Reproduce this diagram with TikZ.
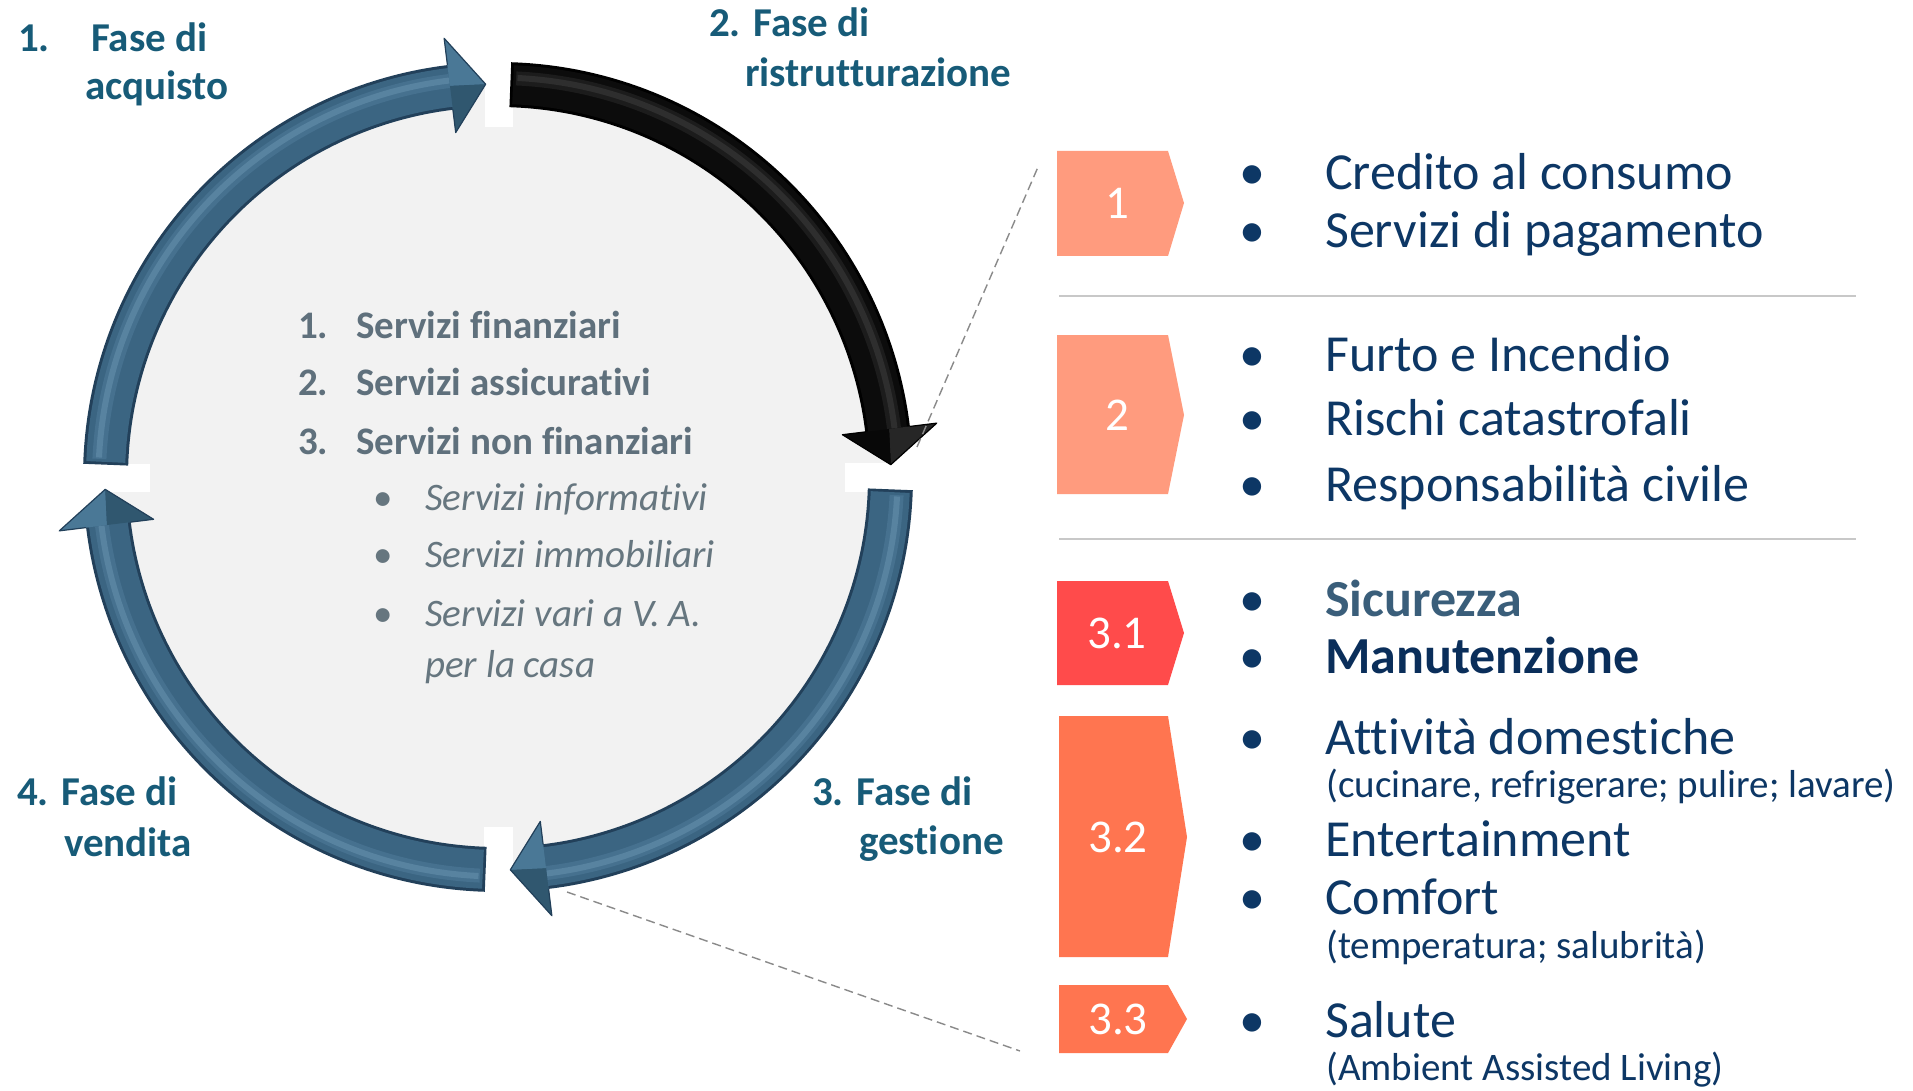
\documentclass[tikz,border=0pt]{standalone}
\usepackage{fontspec}
\setmainfont{Carlito}[Ligatures=NoCommon]
\usetikzlibrary{calc}
\definecolor{phaseblue}{HTML}{175B78}
\definecolor{listgray}{HTML}{5F707C}
\definecolor{ilistgray}{HTML}{66767F}
\definecolor{navy}{HTML}{0D3765}
\definecolor{sicur}{HTML}{3A5E7A}
\definecolor{manut}{HTML}{0A2E5A}
\definecolor{salmon}{HTML}{FF9B7E}
\definecolor{boxred}{HTML}{FF4B4B}
\definecolor{boxorange}{HTML}{FF7550}
\definecolor{sepgray}{HTML}{C8C8C8}
\definecolor{innergray}{HTML}{F2F2F2}
\definecolor{dashgray}{HTML}{8A8A8A}
\definecolor{ringbase}{HTML}{3B6582}
\definecolor{ringdark}{HTML}{22405A}
\definecolor{ringmid}{HTML}{46718F}
\definecolor{ringlight}{HTML}{5883A0}
\definecolor{ringfacetL}{HTML}{4A7896}
\definecolor{ringfacetD}{HTML}{30576F}
\definecolor{blkbase}{HTML}{0C0C0C}
\definecolor{blkdark}{HTML}{000000}
\definecolor{blkmid}{HTML}{1C1C1C}
\definecolor{blklight}{HTML}{2E2E2E}
\definecolor{blkfacetL}{HTML}{262626}
\definecolor{blkfacetD}{HTML}{080808}
% #1 base angle, #2 dark, #3 base, #4 mid, #5 light, #6 outer facet, #7 inner facet
\newcommand{\RingArrow}[7]{%
 \pgfmathsetmacro{\RAs}{#1+1.8}%
 \pgfmathsetmacro{\RAh}{#1+83}%
 \pgfmathsetmacro{\RAe}{#1+83.6}%
 \pgfmathsetmacro{\RAt}{#1+88.2}%
 \draw[#2, line width=45pt, line cap=butt] plot[domain=\RAs:\RAe,samples=90,variable=\q] ({498+392.5*cos(\q)},{477+392.5*sin(\q)});
 \draw[#3, line width=39pt, line cap=butt] plot[domain=\RAs+0.4:\RAe,samples=90,variable=\q] ({498+392.5*cos(\q)},{477+392.5*sin(\q)});
 \draw[#4, line width=14pt, line cap=butt] plot[domain=\RAs+0.8:\RAe,samples=90,variable=\q] ({498+399*cos(\q)},{477+399*sin(\q)});
 \draw[#5, line width=6pt, line cap=butt] plot[domain=\RAs+1.0:\RAe,samples=90,variable=\q] ({498+399.5*cos(\q)},{477+399.5*sin(\q)});
 \fill[#3] ({498+442*cos(\RAh)},{477+442*sin(\RAh)}) -- ({498+393*cos(\RAt)},{477+393*sin(\RAt)}) -- ({498+347*cos(\RAh)},{477+347*sin(\RAh)}) -- cycle;
 \fill[#6] ({498+442*cos(\RAh)},{477+442*sin(\RAh)}) -- ({498+393*cos(\RAt)},{477+393*sin(\RAt)}) -- ({498+394*cos(\RAh)},{477+394*sin(\RAh)}) -- cycle;
 \fill[#7] ({498+347*cos(\RAh)},{477+347*sin(\RAh)}) -- ({498+393*cos(\RAt)},{477+393*sin(\RAt)}) -- ({498+394*cos(\RAh)},{477+394*sin(\RAh)}) -- cycle;
 \draw[#2, line width=1.2pt, line join=round] ({498+415*cos(\RAh)},{477+415*sin(\RAh)}) -- ({498+442*cos(\RAh)},{477+442*sin(\RAh)}) -- ({498+393*cos(\RAt)},{477+393*sin(\RAt)}) -- ({498+347*cos(\RAh)},{477+347*sin(\RAh)}) -- ({498+370*cos(\RAh)},{477+370*sin(\RAh)});
}
\begin{document}
\begin{tikzpicture}[x=1pt,y=-1pt,
  phase/.style={font=\fontsize{41}{48}\selectfont\bfseries, text=phaseblue, anchor=base west, inner sep=0pt},
  clist/.style={font=\fontsize{39}{47}\selectfont\bfseries, text=listgray, anchor=base west, inner sep=0pt},
  ilist/.style={font=\fontsize{39}{47}\selectfont\itshape, text=ilistgray, anchor=base west, inner sep=0pt},
  cbul/.style={font=\fontsize{39}{47}\selectfont, text=ilistgray, anchor=base, inner sep=0pt},
  rtext/.style={font=\fontsize{52}{60}\selectfont, text=navy, anchor=base west, inner sep=0pt},
  rbold/.style={font=\fontsize{52}{60}\selectfont\bfseries, anchor=base west, inner sep=0pt},
  rsub/.style={font=\fontsize{39}{45}\selectfont, text=navy, anchor=base west, inner sep=0pt},
  rbul/.style={font=\fontsize{52}{60}\selectfont, text=navy, anchor=base, inner sep=0pt},
  blabel/.style={font=\fontsize{47}{54}\selectfont, text=white, anchor=center, inner sep=0pt},
  sepline/.style={draw=sepgray, line width=2pt},
  dashline/.style={draw=dashgray, line width=1.4pt, dash pattern=on 9pt off 5pt},
  gapbox/.style={fill=white}
]
\useasboundingbox (0,0) rectangle (1913,1091);
\fill[white] (0,0) rectangle (1913,1091);

% interior
\fill[innergray] (498,477) circle (393);
% gaps
\fill[gapbox] (485,55) rectangle (513,127);
\fill[gapbox] (845,463) rectangle (916,492);
\fill[gapbox] (484,827) rectangle (513,896);
\fill[gapbox] (80,464) rectangle (150,492);

% ring arrows
\RingArrow{180}{ringdark}{ringbase}{ringmid}{ringlight}{ringfacetL}{ringfacetD}
\RingArrow{270}{blkdark}{blkbase}{blkmid}{blklight}{blkfacetL}{blkfacetD}
\RingArrow{0}{ringdark}{ringbase}{ringmid}{ringlight}{ringfacetD}{ringfacetL}
\RingArrow{90}{ringdark}{ringbase}{ringmid}{ringlight}{ringfacetL}{ringfacetD}

% phase labels
\node[phase] (p1n) at (18,52) {1.};
\node[phase] (p1a) at (91,52) {Fase di};
\node[phase] (p1b) at (85,100) {acquisto};
\node[phase] (p2a) at (709,37) {2. Fase di};
\node[phase] (p2b) at (745,87) {ristrutturazione};
\node[phase] (p3a) at (812,805) {3. Fase di};
\node[phase] (p3b) at (859,854) {gestione};
\node[phase] (p4a) at (17,805) {4. Fase di};
\node[phase] (p4b) at (64,856) {vendita};

% centre list
\node[clist] (c1n) at (298,338) {1.};
\node[clist] (c1) at (356,338) {Servizi finanziari};
\node[clist] (c2n) at (298,395) {2.};
\node[clist] (c2) at (356,395) {Servizi assicurativi};
\node[clist] (c3n) at (298,454) {3.};
\node[clist] (c3) at (356,454) {Servizi non finanziari};
\node[cbul] (cb1) at (383,510) {•};
\node[ilist] (ci1) at (425,510) {Servizi informativi};
\node[cbul] (cb2) at (383,567) {•};
\node[ilist] (ci2) at (425,567) {Servizi immobiliari};
\node[cbul] (cb3) at (383,626) {•};
\node[ilist] (ci3) at (425,626) {Servizi vari a V. A.};
\node[ilist] (ci3b) at (425,677) {per la casa};

% boxes
\fill[salmon] (1057,151) -- (1168,151) -- (1184,203) -- (1168,256) -- (1057,256) -- cycle;
\node[blabel] (b1) at (1117,203) {1};
\fill[salmon] (1057,335) -- (1168,335) -- (1184,415) -- (1168,494) -- (1057,494) -- cycle;
\node[blabel] (b2) at (1117,415) {2};
\fill[boxred] (1057,581) -- (1168,581) -- (1184,633) -- (1168,685) -- (1057,685) -- cycle;
\node[blabel] (b31) at (1117,633) {3.1};
\fill[boxorange] (1059,716) -- (1168,716) -- (1187,837) -- (1168,957) -- (1059,957) -- cycle;
\node[blabel] (b32) at (1118,837) {3.2};
\fill[boxorange] (1059,985) -- (1168,985) -- (1187,1019) -- (1168,1053) -- (1059,1053) -- cycle;
\node[blabel] (b33) at (1118,1019) {3.3};

% separators
\draw[sepline] (1059,296) -- (1856,296);
\draw[sepline] (1059,539) -- (1856,539);

% right texts
\node[rbul] (rb1) at (1252,190) {•};
\node[rtext] (r1) at (1325,190) {Credito al consumo};
\node[rbul] (rb2) at (1252,248) {•};
\node[rtext] (r2) at (1325,248) {Servizi di pagamento};
\node[rbul] (rb3) at (1252,371) {•};
\node[rtext] (r3) at (1325,371) {Furto e Incendio};
\node[rbul] (rb4) at (1252,435) {•};
\node[rtext] (r4) at (1325,435) {Rischi catastrofali};
\node[rbul] (rb5) at (1252,501) {•};
\node[rtext] (r5) at (1325,501) {Responsabilità civile};
\node[rbul] (rb6) at (1252,616) {•};
\node[rbold, text=sicur] (r6) at (1325,616) {Sicurezza};
\node[rbul] (rb7) at (1252,673) {•};
\node[rbold, text=manut] (r7) at (1325,673) {Manutenzione};
\node[rbul] (rb8) at (1252,754) {•};
\node[rtext] (r8) at (1325,754) {Attività domestiche};
\node[rsub] (r8s) at (1326,797) {(cucinare, refrigerare; pulire; lavare)};
\node[rbul] (rb9) at (1252,856) {•};
\node[rtext] (r9) at (1325,856) {Entertainment};
\node[rbul] (rb10) at (1252,914) {•};
\node[rtext] (r10) at (1325,914) {Comfort};
\node[rsub] (r10s) at (1326,958) {(temperatura; salubrità)};
\node[rbul] (rb11) at (1252,1037) {•};
\node[rtext] (r11) at (1325,1037) {Salute};
\node[rsub] (r11s) at (1326,1080) {(Ambient Assisted Living)};

% dashed connectors
\coordinate (d1s) at (917,447);
\coordinate (d1e) at (1038,167);
\coordinate (d2s) at (567,892);
\coordinate (d2e) at (1020,1051);
\draw[dashline] (d1s) -- (d1e);
\draw[dashline] (d2s) -- (d2e);
\end{tikzpicture}
\end{document}
